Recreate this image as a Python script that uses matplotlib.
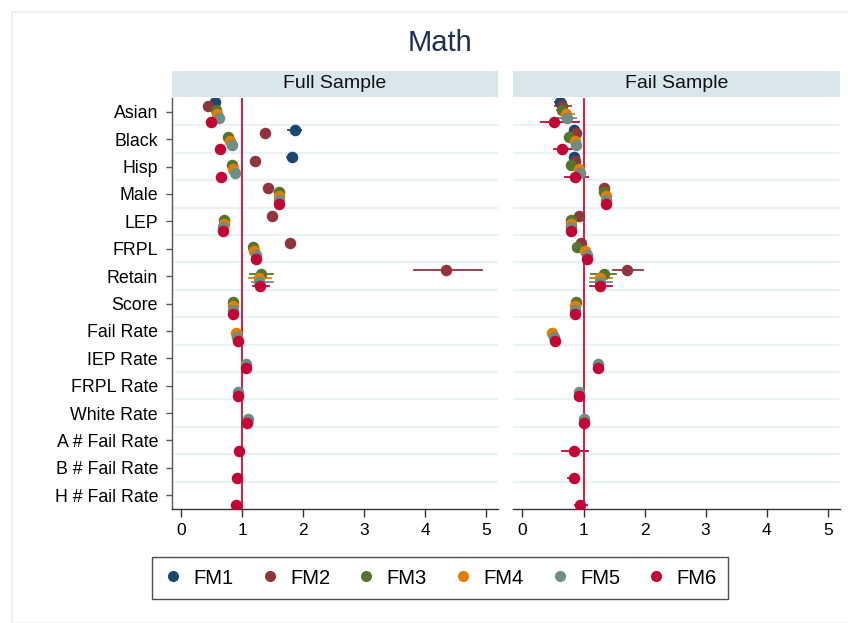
import numpy as np
import matplotlib
matplotlib.use("Agg")
import matplotlib.pyplot as plt
from matplotlib.patches import Rectangle
from matplotlib.lines import Line2D

plt.rcParams['font.family'] = ['Liberation Sans', 'DejaVu Sans']

variables = ["Asian", "Black", "Hisp", "Male", "LEP", "FRPL", "Retain", "Score",
             "Fail Rate", "IEP Rate", "FRPL Rate", "White Rate",
             "A # Fail Rate", "B # Fail Rate", "H # Fail Rate"]
models = ["FM1", "FM2", "FM3", "FM4", "FM5", "FM6"]
colors = ["#1a476f", "#90353b", "#55752f", "#e37e00", "#6e8e84", "#c10534"]

# full sample: {model: {variable: (estimate, lo, hi)}}
full = {
    "FM1": {"Asian": (0.55, 0.52, 0.58), "Black": (1.86, 1.75, 1.97), "Hisp": (1.81, 1.74, 1.88)},
    "FM2": {"Asian": (0.44, 0.42, 0.46), "Black": (1.37, 1.34, 1.40), "Hisp": (1.21, 1.19, 1.23),
            "Male": (1.42, 1.40, 1.44), "LEP": (1.48, 1.44, 1.52), "FRPL": (1.78, 1.75, 1.81),
            "Retain": (4.35, 3.82, 4.93)},
    "FM3": {"Asian": (0.57, 0.55, 0.59), "Black": (0.77, 0.76, 0.78), "Hisp": (0.83, 0.82, 0.84),
            "Male": (1.60, 1.58, 1.62), "LEP": (0.70, 0.69, 0.71), "FRPL": (1.18, 1.16, 1.20),
            "Retain": (1.30, 1.13, 1.50), "Score": (0.85, 0.84, 0.86)},
    "FM4": {"Asian": (0.59, 0.57, 0.61), "Black": (0.79, 0.78, 0.80), "Hisp": (0.84, 0.83, 0.85),
            "Male": (1.60, 1.58, 1.62), "LEP": (0.70, 0.69, 0.71), "FRPL": (1.19, 1.17, 1.21),
            "Retain": (1.27, 1.11, 1.47), "Score": (0.85, 0.84, 0.86), "Fail Rate": (0.89, 0.88, 0.90)},
    "FM5": {"Asian": (0.61, 0.59, 0.63), "Black": (0.83, 0.82, 0.84), "Hisp": (0.88, 0.87, 0.89),
            "Male": (1.60, 1.58, 1.62), "LEP": (0.69, 0.68, 0.70), "FRPL": (1.23, 1.21, 1.25),
            "Retain": (1.28, 1.16, 1.50), "Score": (0.85, 0.84, 0.86), "Fail Rate": (0.91, 0.90, 0.92),
            "IEP Rate": (1.06, 1.05, 1.07), "FRPL Rate": (0.93, 0.92, 0.94), "White Rate": (1.09, 1.08, 1.10)},
    "FM6": {"Asian": (0.49, 0.47, 0.51), "Black": (0.64, 0.63, 0.65), "Hisp": (0.65, 0.64, 0.66),
            "Male": (1.60, 1.58, 1.62), "LEP": (0.69, 0.68, 0.70), "FRPL": (1.23, 1.21, 1.25),
            "Retain": (1.29, 1.17, 1.44), "Score": (0.85, 0.84, 0.86), "Fail Rate": (0.93, 0.92, 0.94),
            "IEP Rate": (1.06, 1.05, 1.07), "FRPL Rate": (0.93, 0.92, 0.94), "White Rate": (1.08, 1.07, 1.09),
            "A # Fail Rate": (0.95, 0.93, 0.97), "B # Fail Rate": (0.91, 0.89, 0.93),
            "H # Fail Rate": (0.89, 0.87, 0.91)},
}

fail = {
    "FM1": {"Asian": (0.62, 0.54, 0.71), "Black": (0.85, 0.81, 0.89), "Hisp": (0.84, 0.80, 0.88)},
    "FM2": {"Asian": (0.64, 0.54, 0.80), "Black": (0.87, 0.83, 0.91), "Hisp": (0.86, 0.82, 0.90),
            "Male": (1.33, 1.30, 1.36), "LEP": (0.92, 0.88, 0.96), "FRPL": (0.96, 0.92, 1.00),
            "Retain": (1.71, 1.48, 1.97)},
    "FM3": {"Asian": (0.65, 0.56, 0.75), "Black": (0.76, 0.73, 0.79), "Hisp": (0.80, 0.77, 0.83),
            "Male": (1.34, 1.31, 1.37), "LEP": (0.79, 0.76, 0.82), "FRPL": (0.90, 0.87, 0.93),
            "Retain": (1.33, 1.13, 1.53), "Score": (0.87, 0.85, 0.89)},
    "FM4": {"Asian": (0.72, 0.61, 0.84), "Black": (0.86, 0.83, 0.89), "Hisp": (0.93, 0.89, 0.97),
            "Male": (1.36, 1.33, 1.39), "LEP": (0.80, 0.77, 0.83), "FRPL": (1.02, 0.99, 1.05),
            "Retain": (1.27, 1.10, 1.46), "Score": (0.86, 0.84, 0.88), "Fail Rate": (0.49, 0.47, 0.51)},
    "FM5": {"Asian": (0.73, 0.59, 0.88), "Black": (0.88, 0.85, 0.91), "Hisp": (0.95, 0.91, 0.99),
            "Male": (1.36, 1.33, 1.39), "LEP": (0.80, 0.77, 0.83), "FRPL": (1.06, 1.03, 1.09),
            "Retain": (1.27, 1.11, 1.47), "Score": (0.86, 0.84, 0.88), "Fail Rate": (0.51, 0.49, 0.53),
            "IEP Rate": (1.23, 1.19, 1.27), "FRPL Rate": (0.92, 0.90, 0.94), "White Rate": (1.00, 0.98, 1.02)},
    "FM6": {"Asian": (0.52, 0.31, 0.93), "Black": (0.65, 0.51, 0.84), "Hisp": (0.86, 0.70, 1.08),
            "Male": (1.36, 1.33, 1.39), "LEP": (0.80, 0.77, 0.83), "FRPL": (1.05, 1.02, 1.08),
            "Retain": (1.27, 1.11, 1.47), "Score": (0.86, 0.84, 0.88), "Fail Rate": (0.54, 0.52, 0.56),
            "IEP Rate": (1.23, 1.17, 1.29), "FRPL Rate": (0.92, 0.90, 0.94), "White Rate": (1.00, 0.98, 1.02),
            "A # Fail Rate": (0.84, 0.64, 1.08), "B # Fail Rate": (0.84, 0.74, 0.93),
            "H # Fail Rate": (0.95, 0.86, 1.05)},
}

W, H = 848, 623
fig = plt.figure(figsize=(W / 100, H / 100), dpi=100)
fig.patch.set_facecolor("white")

# faint outer frame (Stata graph region)
fig.add_artist(Rectangle((12 / W, 0.0), 1.0, 1 - 12 / H, transform=fig.transFigure,
                         fill=False, edgecolor="#e6eef1", linewidth=1.2))


def px_axes(x0, x1, ytop, ybot):
    return fig.add_axes([x0 / W, 1 - ybot / H, (x1 - x0) / W, (ybot - ytop) / H])


panels = [(full, "Full Sample", 172, 498), (fail, "Fail Sample", 513, 840)]
offsets = np.linspace(-0.35, 0.37, len(models))
ypos = np.arange(len(variables))

for i, (data, title, x0, x1) in enumerate(panels):
    ax = px_axes(x0, x1, 98, 509)
    ax.set_xlim(-0.155, 5.2)
    ax.set_ylim(len(variables) - 0.5, -0.5)
    for b in np.arange(0.5, len(variables) - 0.5, 1):
        ax.axhline(b, color="#eaf2f3", lw=1.6, zorder=0)
    ax.axvline(1, color="#c8284a", lw=1.5, zorder=1)
    for k, m in enumerate(models):
        for v, (est, lo, hi) in data[m].items():
            y = variables.index(v) + offsets[k]
            ax.plot([lo, hi], [y, y], color=colors[k], lw=1.3, zorder=2)
            ax.plot(est, y, "o", color=colors[k], ms=8.3, mec="none", zorder=3)
    for s in ["top", "right"]:
        ax.spines[s].set_visible(False)
    ax.spines["bottom"].set_color("#333333")
    ax.spines["bottom"].set_linewidth(1.0)
    ax.set_xticks(range(6))
    ax.tick_params(axis="x", length=6, width=1, color="#333333", labelsize=12.5, pad=4)
    if i == 0:
        ax.spines["left"].set_color("#555555")
        ax.spines["left"].set_linewidth(1.0)
        ax.set_yticks(ypos)
        ax.set_yticklabels(variables)
        ax.tick_params(axis="y", length=4, width=1, color="#555555", labelsize=12.8, pad=6)
    else:
        ax.spines["left"].set_visible(False)
        ax.set_yticks([])
    # strip header
    sax = px_axes(x0, x1, 71, 97)
    sax.set_facecolor("#d9e6eb")
    sax.set_xticks([])
    sax.set_yticks([])
    for s in sax.spines.values():
        s.set_visible(False)
    sax.text(0.5, 0.5, title, ha="center", va="center", fontsize=14, color="#111111",
             transform=sax.transAxes)

fig.text(440 / W, 1 - 43 / H, "Math", ha="center", va="center", fontsize=21, color="#1e2f55")

handles = [Line2D([], [], marker="o", ls="none", color=c, ms=8, mec="none") for c in colors]
fig.legend(handles, models, loc="center", bbox_to_anchor=(440 / W, 1 - 578 / H), ncol=6,
           fontsize=14.5, frameon=True, fancybox=False, edgecolor="#222222", handletextpad=0.5,
           columnspacing=1.3, borderpad=0.55, handlelength=1.0)
fig.legends[0].get_frame().set_linewidth(1.0)

fig.savefig("out.png", dpi=100)
